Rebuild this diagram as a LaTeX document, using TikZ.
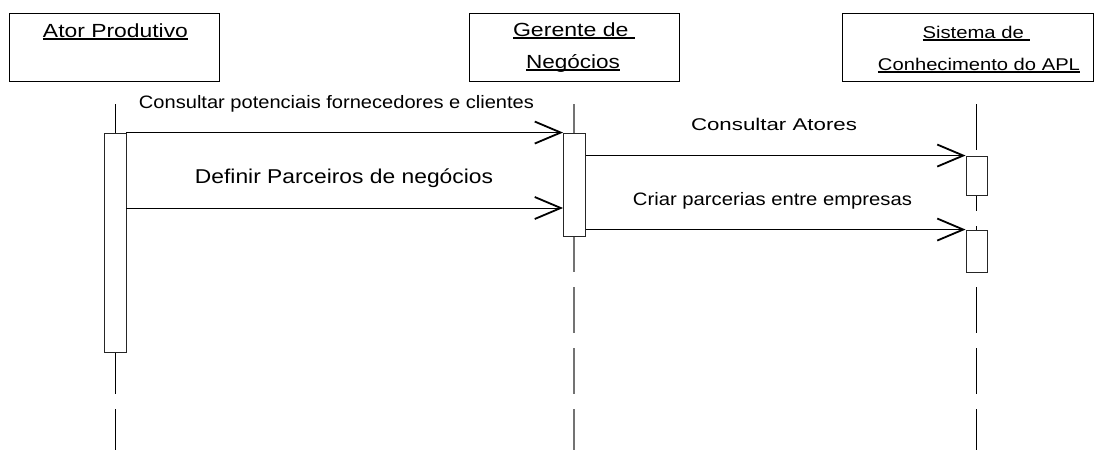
\documentclass[tikz,border=0pt]{standalone}
\usepackage{graphicx}
\usepackage{fontspec}
\setmainfont{Liberation Sans}
\usetikzlibrary{arrows.meta}
\newcommand\ulbox[1]{\setbox0\hbox{#1}\rlap{\rule[-3pt]{\wd0}{1.8pt}}\box0}
\newcommand\wtext[2]{\resizebox{#1pt}{\height}{#2}}
\tikzset{
  lifebox/.style={draw=black, line width=0.9pt, minimum height=68pt, inner sep=0pt},
  titletext/.style={anchor=base, inner sep=0pt},
  act/.style={draw=black!85, fill=white, line width=0.9pt, minimum width=22pt, inner sep=0pt},
  lifeline/.style={line width=0.8pt, dash pattern=on 46pt off 15pt},
  msg/.style={line width=0.8pt, -{Straight Barb[length=26pt,width=22pt,line width=1.8pt]}},
  msglabel/.style={anchor=base, inner sep=0pt},
}
\begin{document}
\begin{tikzpicture}[x=1pt,y=-1pt]
\useasboundingbox[fill=white] (0,0) rectangle (1096,450);

% header boxes
\node[lifebox, minimum width=210pt] (boxA) at (114,47) {};
\node[lifebox, minimum width=210pt] (boxG) at (574,47) {};
\node[lifebox, minimum width=251pt] (boxS) at (967.5,47) {};

\node[titletext] (tA) at (115.5,37) {\wtext{145}{\fontsize{19}{19}\selectfont\ulbox{Ator Produtivo}}};
\node[titletext] (tG1) at (574,36) {\wtext{122}{\fontsize{19}{19}\selectfont\ulbox{Gerente de\ }}};
\node[titletext] (tG2) at (573,68) {\wtext{94}{\fontsize{19}{19}\selectfont\ulbox{Negócios}}};
\node[titletext] (tS1) at (976,38) {\wtext{107}{\fontsize{17}{17}\selectfont\ulbox{Sistema de\ }}};
\node[titletext] (tS2) at (979,70) {\wtext{202}{\fontsize{17}{17}\selectfont\ulbox{Conhecimento do APL}}};

% lifelines
\coordinate (Atop) at (115,104);  \coordinate (Abot) at (115,450);
\coordinate (Gtop) at (574,104);  \coordinate (Gbot) at (574,450);
\coordinate (Stop) at (976,104);  \coordinate (Sbot) at (976,450);
\draw[lifeline, draw=black] (Atop) -- (Abot);
\draw[lifeline, draw=black!55, line width=1.2pt] (Gtop) -- (Gbot);
\draw[lifeline, draw=black] (Stop) -- (Sbot);

% activations
\node[act, minimum height=219pt] (aA) at (115,242.5) {};
\node[act, minimum height=103pt] (aG) at (574.5,184.5) {};
\node[act, minimum width=21pt, minimum height=39pt] (aS1) at (976.5,175.5) {};
\node[act, minimum width=21pt, minimum height=42pt] (aS2) at (976.5,251) {};

% messages
\coordinate (m2) at (0,208);
\draw[msg] (aA.north east) -- (aG.north west);
\draw[msg] (aA.east |- m2) -- (aG.west |- m2);
\draw[msg] (aG.east |- aS1.north) -- (aS1.north west);
\draw[msg] (aG.east |- aS2.north) -- (aS2.north west);

% message labels
\node[msglabel] (l1) at (336.5,108) {\wtext{395}{\fontsize{18}{18}\selectfont Consultar potenciais fornecedores e clientes}};
\node[msglabel] (l2) at (344,183) {\wtext{298}{\fontsize{20}{20}\selectfont Definir Parceiros de negócios}};
\node[msglabel] (l3) at (774,130) {\wtext{166}{\fontsize{17}{17}\selectfont Consultar Atores}};
\node[msglabel] (l4) at (772.5,205) {\wtext{279}{\fontsize{18}{18}\selectfont Criar parcerias entre empresas}};
\end{tikzpicture}
\end{document}
